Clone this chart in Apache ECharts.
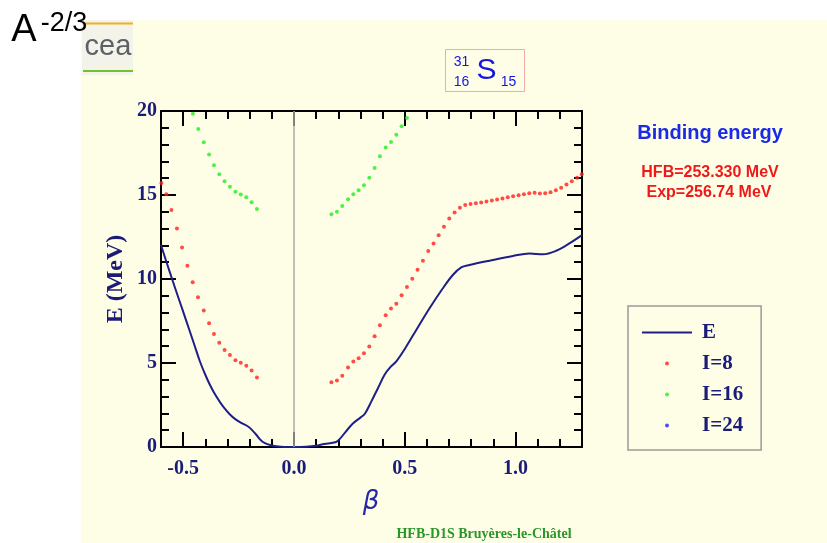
<!DOCTYPE html>
<html>
<head>
<meta charset="utf-8">
<script src="https://cdn.jsdelivr.net/npm/echarts@6/dist/echarts.min.js"></script>
<style>
  html, body { margin: 0; padding: 0; background: #ffffff; }
  #chart { width: 827px; height: 543px; }
</style>
</head>
<body>
<div id="chart"></div>
<script>
// ---------- data ----------
const xMajorTicks = [-0.5, 0.0, 0.5, 1.0];
const yTickValues = [0, 5, 10, 15, 20];

// total energy curve E(beta)
const eCurve = [
  [-0.600, 12.02], [-0.575, 11.00], [-0.550, 10.00], [-0.525, 9.02], [-0.500, 8.06],
  [-0.475, 7.08], [-0.450, 6.10], [-0.425, 5.12], [-0.400, 4.30], [-0.380, 3.72],
  [-0.357, 3.15], [-0.330, 2.60], [-0.310, 2.25], [-0.290, 1.95], [-0.265, 1.66],
  [-0.237, 1.43], [-0.207, 1.22], [-0.190, 1.02], [-0.170, 0.73], [-0.155, 0.48],
  [-0.140, 0.30], [-0.120, 0.17], [-0.095, 0.08], [-0.060, 0.02], [-0.030, 0.00],
  [0.000, 0.00], [0.055, 0.02], [0.100, 0.08], [0.130, 0.16], [0.161, 0.22],
  [0.190, 0.30], [0.205, 0.45], [0.236, 0.95], [0.266, 1.40], [0.300, 1.75],
  [0.320, 1.98], [0.349, 2.70], [0.379, 3.50], [0.409, 4.30], [0.435, 4.75],
  [0.462, 5.10], [0.507, 5.98], [0.552, 6.97], [0.612, 8.26], [0.672, 9.45],
  [0.717, 10.24], [0.755, 10.69], [0.792, 10.83], [0.883, 11.09], [0.988, 11.37],
  [1.063, 11.52], [1.123, 11.47], [1.183, 11.68], [1.243, 12.12], [1.300, 12.61]
];

// I = 8 points
const i8Values = [
  [-0.598, 15.72], [-0.576, 15.05], [-0.553, 14.10], [-0.528, 13.01], [-0.505, 11.88],
  [-0.481, 10.79], [-0.457, 9.80], [-0.433, 8.91], [-0.407, 8.12], [-0.383, 7.37],
  [-0.361, 6.73], [-0.337, 6.20], [-0.313, 5.78], [-0.289, 5.47], [-0.264, 5.17],
  [-0.240, 5.01], [-0.215, 4.83], [-0.191, 4.55], [-0.167, 4.14],
  [0.169, 3.86], [0.194, 3.96], [0.218, 4.24], [0.244, 4.73], [0.268, 5.09],
  [0.292, 5.29], [0.316, 5.58], [0.340, 5.98], [0.364, 6.59], [0.388, 7.25],
  [0.414, 7.84], [0.438, 8.24], [0.462, 8.53], [0.486, 9.03], [0.510, 9.52],
  [0.534, 10.02], [0.558, 10.55], [0.582, 11.09], [0.606, 11.66], [0.630, 12.12],
  [0.653, 12.61], [0.677, 13.11], [0.701, 13.60], [0.725, 13.96], [0.749, 14.24],
  [0.773, 14.40], [0.797, 14.46], [0.821, 14.51], [0.845, 14.55], [0.869, 14.61],
  [0.893, 14.67], [0.917, 14.73], [0.941, 14.79], [0.965, 14.87], [0.989, 14.93],
  [1.014, 14.99], [1.038, 15.05], [1.062, 15.11], [1.086, 15.13], [1.110, 15.09],
  [1.134, 15.11], [1.158, 15.17], [1.182, 15.29], [1.206, 15.43], [1.230, 15.63],
  [1.254, 15.82], [1.278, 16.02], [1.299, 16.24]
];

// I = 16 points
const i16Values = [
  [-0.456, 19.84], [-0.432, 18.93], [-0.407, 18.14], [-0.383, 17.41], [-0.361, 16.77],
  [-0.337, 16.24], [-0.313, 15.82], [-0.289, 15.49], [-0.264, 15.19], [-0.240, 15.03],
  [-0.215, 14.87], [-0.191, 14.57], [-0.167, 14.16],
  [0.169, 13.86], [0.194, 14.00], [0.218, 14.34], [0.244, 14.75], [0.268, 15.05],
  [0.292, 15.29], [0.316, 15.58], [0.340, 16.02], [0.364, 16.61], [0.388, 17.31],
  [0.414, 17.82], [0.438, 18.16], [0.462, 18.59], [0.486, 19.09], [0.510, 19.58]
];

// I = 24 points (none inside the plotted window)
const i24Values = [];

// ---------- styling ----------
const NAVY = '#1b1b78';
const SERIF = '"Liberation Serif", "DejaVu Serif", serif';
const SANS = '"Liberation Sans", Arial, sans-serif';

function isMajorX(v) {
  return xMajorTicks.some(t => Math.abs(t - v) < 1e-6);
}

const baseX = {
  type: 'value', min: -0.6, max: 1.3, interval: 0.1,
  splitLine: { show: false },
  axisLine: { show: true, onZero: false, lineStyle: { color: '#000', width: 2 } },
  axisTick: { show: true, inside: true, length: 8, lineStyle: { color: '#000', width: 2 } },
  axisLabel: { show: false }
};
const majorX = {
  type: 'value', min: -0.6, max: 1.3,
  splitLine: { show: false },
  axisLine: { show: false, onZero: false },
  axisTick: { show: true, inside: true, length: 15, customValues: xMajorTicks,
              lineStyle: { color: '#000', width: 2 } },
  axisLabel: { show: false }
};
const baseY = {
  type: 'value', min: 0, max: 20, interval: 5,
  splitLine: { show: false },
  minorSplitLine: { show: false },
  axisLine: { show: true, onZero: false, lineStyle: { color: '#000', width: 2 } },
  axisTick: { show: true, inside: true, length: 15, lineStyle: { color: '#000', width: 2 } },
  minorTick: { show: true, splitNumber: 5, length: 8, lineStyle: { color: '#000', width: 2 } },
  axisLabel: { show: false }
};

const chart = echarts.init(document.getElementById('chart'), null, { renderer: 'canvas' });

const option = {
  animation: false,
  backgroundColor: '#ffffff',
  grid: { left: 161, top: 111, width: 421, height: 336, containLabel: false },
  xAxis: [
    Object.assign({}, baseX, {
      position: 'bottom',
      axisLabel: {
        show: true, margin: 12, color: NAVY, fontFamily: SERIF, fontWeight: 'bold', fontSize: 20,
        formatter: v => isMajorX(v) ? (Math.abs(v) < 1e-9 ? 0 : v).toFixed(1) : ''
      }
    }),
    Object.assign({}, majorX, { position: 'bottom' }),
    Object.assign({}, baseX, { position: 'top' }),
    Object.assign({}, majorX, { position: 'top' })
  ],
  yAxis: [
    Object.assign({}, baseY, {
      position: 'left',
      axisLabel: {
        show: true, margin: 4, color: NAVY, fontFamily: SERIF, fontWeight: 'bold', fontSize: 20,
        customValues: yTickValues
      }
    }),
    Object.assign({}, baseY, { position: 'right' })
  ],
  legend: {
    orient: 'vertical',
    left: 628, top: 306,
    padding: [16, 18, 14, 14],
    itemWidth: 50, itemHeight: 4, itemGap: 10,
    borderColor: '#9a9a9a', borderWidth: 1.5,
    backgroundColor: 'transparent',
    selectedMode: false,
    textStyle: { color: NAVY, fontFamily: SERIF, fontWeight: 'bold', fontSize: 21, lineHeight: 20,
                 padding: [0, 0, 0, 5] },
    data: [
      { name: 'E', icon: 'path://M0,0M50,4M0,1L50,1L50,3L0,3Z', itemStyle: { color: '#1e1e8a' } },
      'I=8', 'I=16', 'I=24'
    ]
  },
  series: [
    {
      name: 'E', type: 'line', data: eCurve, xAxisIndex: 0, yAxisIndex: 0,
      smooth: 0.35, symbol: 'none', showSymbol: false, clip: true,
      lineStyle: { color: '#1e1e8a', width: 2 }, itemStyle: { color: '#1e1e8a' },
      z: 3,
      markLine: {
        silent: true, symbol: ['none', 'none'], label: { show: false },
        lineStyle: { color: '#ababab', width: 1.5, type: 'solid' },
        data: [{ xAxis: 0 }]
      }
    },
    {
      name: 'I=8', type: 'scatter', data: i8Values, xAxisIndex: 0, yAxisIndex: 0,
      symbol: 'circle', symbolSize: 4, clip: true,
      itemStyle: { color: '#ff1f1f' }, z: 4
    },
    {
      name: 'I=16', type: 'scatter', data: i16Values, xAxisIndex: 0, yAxisIndex: 0,
      symbol: 'circle', symbolSize: 4, clip: true,
      itemStyle: { color: '#22ee22' }, z: 4
    },
    {
      name: 'I=24', type: 'scatter', data: i24Values, xAxisIndex: 0, yAxisIndex: 0,
      symbol: 'circle', symbolSize: 4, clip: true,
      itemStyle: { color: '#2222ee' }, z: 4
    }
  ],
  graphic: [
    // light yellow page background
    { type: 'rect', z: -100, silent: true, shape: { x: 81, y: 20, width: 746, height: 523 },
      style: { fill: '#fefee6' } },
    // cea logo
    { type: 'rect', z: -90, silent: true, shape: { x: 82, y: 20, width: 51, height: 55 },
      style: { fill: '#f3f3ea' } },
    { type: 'rect', z: -80, silent: true, shape: { x: 83, y: 22.5, width: 50, height: 2 },
      style: { fill: '#f0b020' } },
    { type: 'rect', z: -80, silent: true, shape: { x: 83, y: 70, width: 50, height: 2 },
      style: { fill: '#70c030' } },
    { type: 'text', z: -70, silent: true, x: 108, y: 47,
      style: { text: 'cea', fill: '#5c6168', font: '29px ' + SANS, textAlign: 'center', textVerticalAlign: 'middle' } },
    // A^-2/3
    { type: 'text', silent: true, x: 24, y: 31,
      style: { text: 'A', fill: '#000', font: '38px ' + SANS, textAlign: 'center', textVerticalAlign: 'middle' } },
    { type: 'text', silent: true, x: 64, y: 24,
      style: { text: '-2/3', fill: '#000', font: '27px ' + SANS, textAlign: 'center', textVerticalAlign: 'middle' } },
    // nucleus title box
    { type: 'rect', silent: true, shape: { x: 445.5, y: 49.5, width: 79, height: 42 },
      style: { fill: 'transparent', stroke: '#f2aaaa', lineWidth: 1 } },
    { type: 'text', silent: true, x: 486.5, y: 71,
      style: { text: 'S', fill: '#1515e0', font: '30px ' + SANS, textAlign: 'center', textVerticalAlign: 'middle' } },
    { type: 'text', silent: true, x: 461.5, y: 62,
      style: { text: '31', fill: '#1515e0', font: '14px ' + SANS, textAlign: 'center', textVerticalAlign: 'middle' } },
    { type: 'text', silent: true, x: 461.5, y: 82,
      style: { text: '16', fill: '#1515e0', font: '14px ' + SANS, textAlign: 'center', textVerticalAlign: 'middle' } },
    { type: 'text', silent: true, x: 508.5, y: 82,
      style: { text: '15', fill: '#1515e0', font: '14px ' + SANS, textAlign: 'center', textVerticalAlign: 'middle' } },
    // binding energy annotations
    { type: 'text', silent: true, x: 710, y: 133,
      style: { text: 'Binding energy', fill: '#1a2ae6', font: 'bold 20px ' + SANS, textAlign: 'center', textVerticalAlign: 'middle' } },
    { type: 'text', silent: true, x: 710, y: 173,
      style: { text: 'HFB=253.330 MeV', fill: '#ee1a1a', font: 'bold 16px ' + SANS, textAlign: 'center', textVerticalAlign: 'middle' } },
    { type: 'text', silent: true, x: 709, y: 193,
      style: { text: 'Exp=256.74 MeV', fill: '#ee1a1a', font: 'bold 16px ' + SANS, textAlign: 'center', textVerticalAlign: 'middle' } },
    // axis titles
    { type: 'text', silent: true, x: 116, y: 279, rotation: Math.PI / 2,
      style: { text: 'E (MeV)', fill: NAVY, font: 'bold 24px ' + SERIF, textAlign: 'center', textVerticalAlign: 'middle' } },
    { type: 'text', silent: true, x: 371, y: 502,
      style: { text: 'β', fill: '#2626a6', font: 'italic 26px "DejaVu Sans", sans-serif', textAlign: 'center', textVerticalAlign: 'middle' } },
    // footer
    { type: 'text', silent: true, x: 484, y: 534,
      style: { text: 'HFB-D1S Bruyères-le-Châtel', fill: '#2a962a', font: 'bold 14px ' + SERIF, textAlign: 'center', textVerticalAlign: 'middle' } }
  ]
};

chart.setOption(option);
</script>
</body>
</html>
